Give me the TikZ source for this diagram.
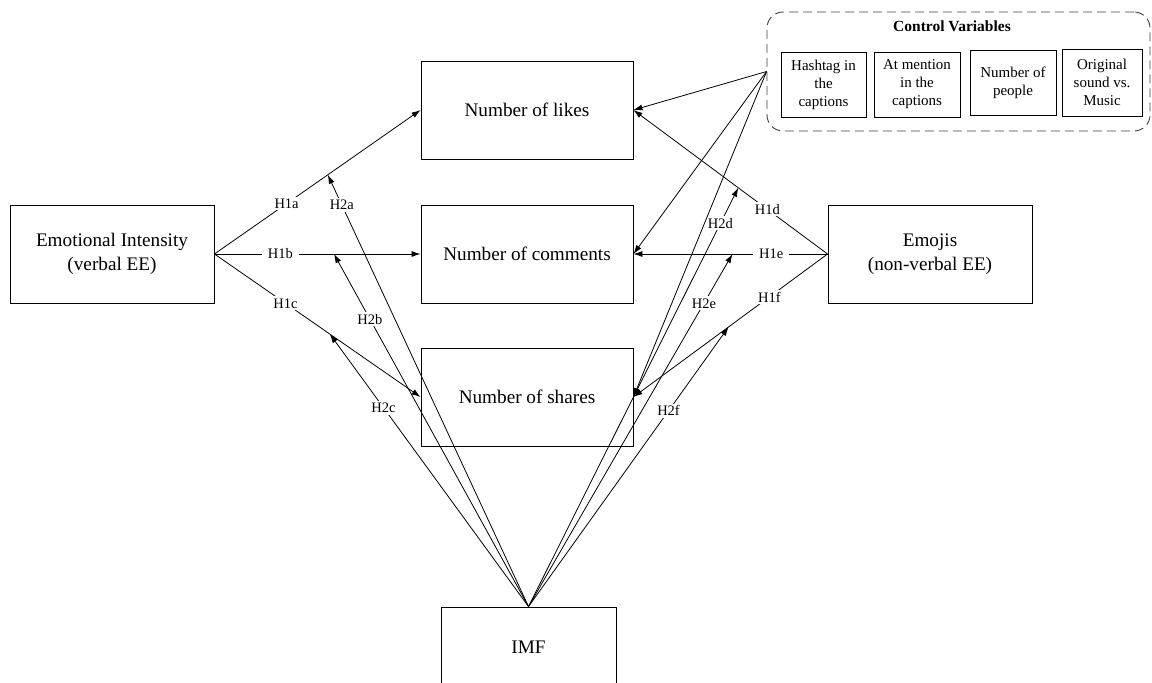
\documentclass[tikz,border=0pt]{standalone}
\usepackage{fontspec}
\setmainfont{Liberation Serif}
\usetikzlibrary{arrows.meta,calc}

\tikzset{
  varbox/.style={draw, line width=0.9pt, minimum width=212pt, minimum height=98pt, align=center, font=\fontsize{19.2}{24}\selectfont},
  ctrlbox/.style={draw, line width=0.9pt, align=center, inner sep=0pt, font=\fontsize{15}{18}\selectfont},
  hyp/.style={fill=white, inner xsep=6pt, inner ysep=2pt, font=\fontsize{14.5}{16}\selectfont},
  link/.style={line width=0.8pt, -{Latex[length=9pt,width=6pt]}}
}

\begin{document}
\begin{tikzpicture}[x=1pt, y=-1pt]

    % Canvas
    \useasboundingbox (0,0) rectangle (1152,683);

    % Variables
    \node[varbox, minimum width=204pt] (emo) at (112,254) {Emotional Intensity\\(verbal EE)};
    \node[varbox] (likes) at (527,110) {Number of likes};
    \node[varbox] (comments) at (527,254) {Number of comments};
    \node[varbox] (shares) at (527,397) {Number of shares};
    \node[varbox, minimum width=204pt] (emojis) at (930,254) {Emojis\\(non-verbal EE)};
    \node[varbox, minimum width=175pt, minimum height=80pt] (imf) at (528.5,647) {IMF};

    % Control variables
    \node[draw=black!75, dash pattern=on 9pt off 5pt, rounded corners=16pt, line width=0.9pt, minimum width=383pt, minimum height=119pt] (control) at (958.5,71.5) {};
    \node[font=\fontsize{15.5}{18}\selectfont\bfseries] (ctrltitle) at (952,26) {Control Variables};
    \node[ctrlbox, minimum width=85pt, minimum height=65pt] (hashtag) at (823.5,84.5) {Hashtag in\\the\\captions};
    \node[ctrlbox, minimum width=86pt, minimum height=65pt] (mention) at (917,84.5) {At mention\\in the\\captions};
    \node[ctrlbox, minimum width=86pt, minimum height=65pt] (people) at (1013,82.5) {Number of\\people};
    \node[ctrlbox, minimum width=80pt, minimum height=67pt] (sound) at (1102,82.5) {Original\\sound vs.\\Music};

    % Points on the direct paths
    \coordinate (t2a) at ($(emo.east)!0.55!(likes.west)$);
    \coordinate (t2b) at ($(emo.east)!0.58!(comments.west)$);
    \coordinate (t2c) at ($(emo.east)!0.56!(shares.west)$);
    \coordinate (t2d) at ($(emojis.west)!0.46!(likes.east)$);
    \coordinate (t2e) at ($(emojis.west)!0.49!(comments.east)$);
    \coordinate (t2f) at ($(emojis.west)!0.51!(shares.east)$);

    % Moderation by IMF
    \draw[link] (imf.north) -- node[hyp, pos=0.93] (h2a) {H2a} (t2a);
    \draw[link] (imf.north) -- node[hyp, pos=0.815] (h2b) {H2b} (t2b);
    \draw[link] (imf.north) -- node[hyp, pos=0.73] (h2c) {H2c} (t2c);
    \draw[link] (imf.north) -- node[hyp, pos=0.915] (h2d) {H2d} (t2d);
    \draw[link] (imf.north) -- node[hyp, pos=0.86] (h2e) {H2e} (t2e);
    \draw[link] (imf.north) -- node[hyp, pos=0.70] (h2f) {H2f} (t2f);

    % Controls
    \draw[link] (control.west) -- (likes.east);
    \draw[link] (control.west) -- (comments.east);
    \draw[link] (control.west) -- (shares.east);

    % Direct effects
    \draw[link] (emo.east) -- node[hyp, pos=0.35] (h1a) {H1a} (likes.west);
    \draw[link] (emo.east) -- node[hyp, pos=0.32] (h1b) {H1b} (comments.west);
    \draw[link] (emo.east) -- node[hyp, pos=0.345] (h1c) {H1c} (shares.west);
    \draw[link] (emojis.west) -- node[hyp, pos=0.31] (h1d) {H1d} (likes.east);
    \draw[link] (emojis.west) -- node[hyp, pos=0.29] (h1e) {H1e} (comments.east);
    \draw[link] (emojis.west) -- node[hyp, pos=0.30] (h1f) {H1f} (shares.east);

\end{tikzpicture}
\end{document}
